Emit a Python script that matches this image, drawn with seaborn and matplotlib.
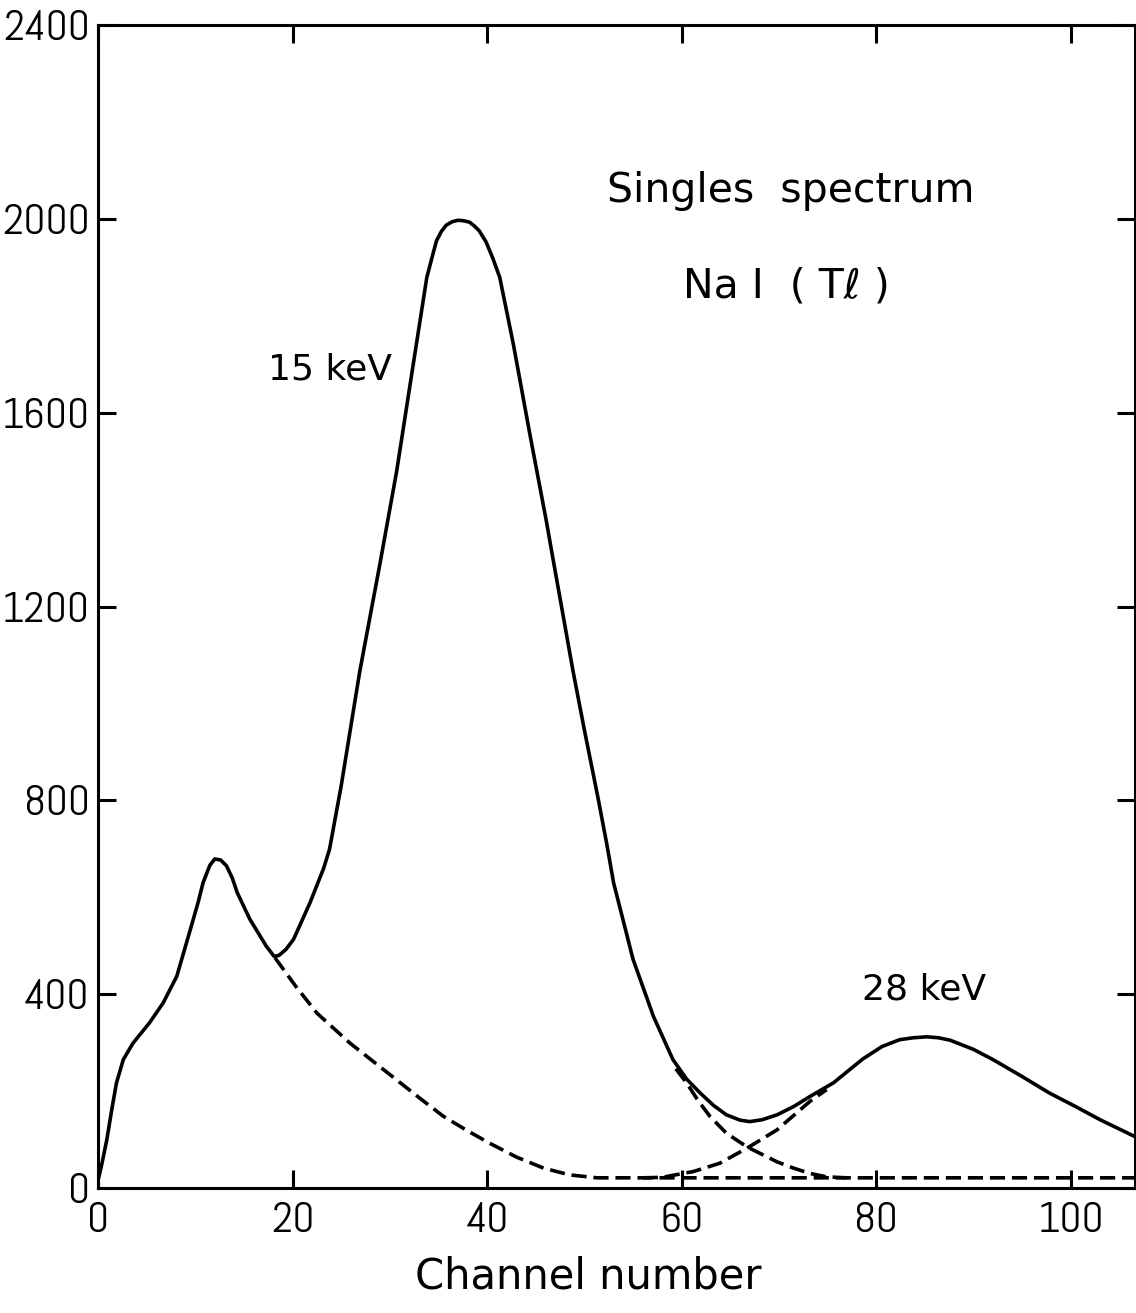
import numpy as np
import pandas as pd
import seaborn as sns
import matplotlib.pyplot as plt
from matplotlib import font_manager

# total singles spectrum (solid line)
channel = [0.0, 0.4, 0.9, 1.4, 1.9, 2.6, 3.6, 5.3, 6.7, 8.1, 9.5, 10.3, 10.8, 11.5, 12.0,
           12.6, 13.2, 13.8, 14.3, 15.6, 17.3, 18.1, 18.6, 19.3, 20.1, 21.8, 23.2, 23.8, 25.0,
           26.9, 29.0, 30.7, 32.4, 33.8, 34.4, 34.8, 35.3, 35.8, 36.4, 37.0, 37.6, 38.2, 38.7,
           39.2, 39.9, 40.6, 41.3, 42.7, 44.4, 46.1, 46.8, 47.8, 48.8, 50.0, 51.4, 52.3,
           53.0, 55.0, 57.1, 59.1, 60.5, 61.9, 63.3, 64.6, 66.0, 67.0, 68.3, 69.8, 71.5,
           73.2, 75.6, 78.6, 80.6, 82.4, 83.8, 85.2, 86.4, 87.6, 90.0, 92.0, 95.0, 97.8,
           100.5, 103.0, 106.6]
counts = [15, 50, 99, 160, 217, 265, 299, 341, 382, 437, 534, 590, 630, 666, 679,
          677, 665, 640, 610, 555, 499, 478, 480, 492, 513, 589, 660, 699, 830,
          1065, 1290, 1479, 1699, 1879, 1925, 1955, 1974, 1987, 1994, 1997, 1996, 1993, 1985,
          1975, 1952, 1918, 1879, 1741, 1555, 1375, 1295, 1183, 1070, 945, 805, 710,
          630, 472, 354, 265, 225, 196, 170, 151, 140, 137, 141, 151, 168,
          189, 217, 266, 292, 306, 310, 312, 310, 305, 286, 265, 230, 196,
          168, 141, 106]

# dashed decomposition curves
low_tail_x = [18.2, 20.3, 22.5, 25.9, 28.3, 30.7, 33.1, 35.5, 37.9, 40.3, 43.0,
              45.8, 48.5, 51.3, 106.6]
low_tail_y = [475, 417, 361, 299, 261, 223, 185, 148, 119, 92, 64,
              41, 27, 21, 21]

peak15_tail_x = [59.4, 60.5, 61.7, 62.9, 64.6, 66.7, 69.8, 71.5, 73.2, 74.9, 77.0]
peak15_tail_y = [246, 217, 180, 148, 113, 85, 54, 41, 30, 23, 21]

peak28_tail_x = [56.0, 58.0, 58.8, 61.2, 63.9, 66.7, 69.8, 73.2, 74.9]
peak28_tail_y = [21, 22, 25, 34, 51, 82, 120, 179, 203]

x_ticks = [0, 20, 40, 60, 80, 100]
y_ticks = [0, 400, 800, 1200, 1600, 2000, 2400]

sns.set_theme(style="ticks")
plt.rcParams["font.family"] = ["DejaVu Sans"]
plt.rcParams["text.color"] = "black"

# narrow lettering for the tick numbers, first one available
names = {f.name for f in font_manager.fontManager.ttflist}
tick_font = "DejaVu Sans"
for cand in ["Liberation Sans Narrow", "Abel", "Roboto Condensed", "Archivo Narrow", "PT Sans Narrow"]:
    if cand in names:
        tick_font = cand
        break
tick_size = 31 if tick_font != "DejaVu Sans" else 24

spectrum = pd.DataFrame({"Channel": channel, "Counts": counts})
low_tail = pd.DataFrame({"Channel": low_tail_x, "Counts": low_tail_y})
tail15 = pd.DataFrame({"Channel": peak15_tail_x, "Counts": peak15_tail_y})
tail28 = pd.DataFrame({"Channel": peak28_tail_x, "Counts": peak28_tail_y})

fig = plt.figure(figsize=(11.36, 13.13), dpi=100)
ax = fig.add_axes([98 / 1136, 125 / 1313, 1037 / 1136, 1163 / 1313])

dash = (0, (4.2, 1.9))
sns.lineplot(data=spectrum, x="Channel", y="Counts", color="black", lw=2.6,
             solid_joinstyle="round", ax=ax)
for df in (low_tail, tail15, tail28):
    sns.lineplot(data=df, x="Channel", y="Counts", color="black", lw=2.6,
                 linestyle=dash, ax=ax)

ax.set_xlim(0, 106.6)
ax.set_ylim(0, 2400)
ax.set_xticks(x_ticks, labels=[str(v) for v in x_ticks], fontfamily=tick_font, fontsize=tick_size)
ax.set_yticks(y_ticks, labels=[str(v) for v in y_ticks], fontfamily=tick_font, fontsize=tick_size)
ax.tick_params(direction="in", length=13, width=2.2, top=True, right=True,
               color="black", labelcolor="black")
ax.tick_params(axis="x", pad=10)
ax.tick_params(axis="y", pad=6)
for s in ax.spines.values():
    s.set_linewidth(2.2)
    s.set_color("black")

ax.set_xlabel("Channel number", fontsize=30, color="black")
ax.xaxis.set_label_coords(0.4725, -0.058)
ax.set_ylabel("")

ax.text(71.2, 2034, "Singles  spectrum", ha="center", va="baseline", fontsize=29.5)
ax.text(70.8, 1837, "Na I  ( Tℓ )", ha="center", va="baseline", fontsize=29.5)
ax.text(23.9, 1668, "15 keV", ha="center", va="baseline", fontsize=26)
ax.text(84.9, 389, "28 keV", ha="center", va="baseline", fontsize=26)

fig.savefig("out.png", dpi=100, facecolor="white")
